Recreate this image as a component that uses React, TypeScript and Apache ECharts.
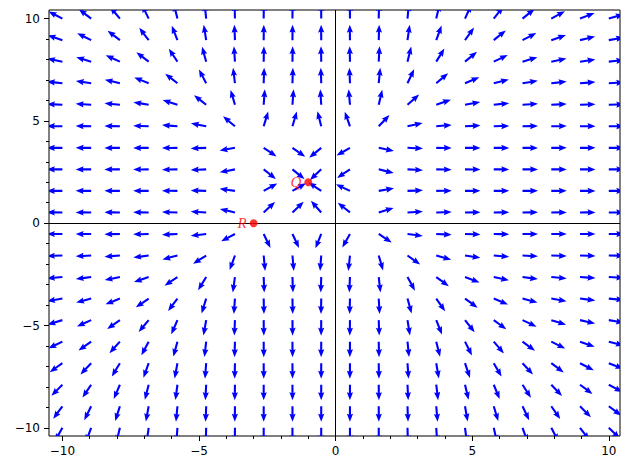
import React, { useEffect, useRef } from 'react';
import * as echarts from 'echarts';

// Grid of arrow tails (20 x 20, from -10 to 10)
const gridX = [-10, -8.947, -7.895, -6.842, -5.789, -4.737, -3.684, -2.632, -1.579, -0.526,
  0.526, 1.579, 2.632, 3.684, 4.737, 5.789, 6.842, 7.895, 8.947, 10];
const gridY = [10, 8.947, 7.895, 6.842, 5.789, 4.737, 3.684, 2.632, 1.579, 0.526,
  -0.526, -1.579, -2.632, -3.684, -4.737, -5.789, -6.842, -7.895, -8.947, -10];

// Horizontal component of the field for each column, vertical component for each row
const uByColumn = [-693, -470.1, -300.2, -176.0, -90.7, -37.2, -8.6, 2.18, 2.12, -1.79,
  -2.55, 6.84, 33.4, 84.0, 165.9, 285.7, 450.9, 668.2, 944.4, 1287];
const vByRow = [480, 307.5, 181.3, 94.2, 39.2, 9.56, -1.96, -2.28, 1.61, 2.69,
  -6.01, -31.5, -80.9, -160.9, -278.8, -441.4, -655.9, -929.3, -1268.0, -1680];

// Marked points
const pointNames = ['R', 'Q'];
const pointX = [-3, -1];
const pointY = [0, 2];

// Ticks
const majorTicks = [-10, -5, 0, 5, 10];
const minorTicks = [-9, -8, -7, -6, -4, -3, -2, -1, 1, 2, 3, 4, 6, 7, 8, 9];

const X_MIN = -10.49;
const X_MAX = 10.41;
const Y_MIN = -10.4;
const Y_MAX = 10.42;

// Arrow geometry in pixels
const ARROW_LEN = 15.5;
const SHAFT_W = 2.1;
const HEAD_W = 6.2;
const HEAD_LEN = 8;
const HEAD_AXIS_LEN = 7.2;

const fmt = (v: number) => (v < 0 ? '\u2212' + Math.abs(v) : String(v));

export default function App() {
  const ref = useRef<HTMLDivElement>(null);

  useEffect(() => {
    const chart = echarts.init(ref.current!, null, { renderer: 'svg' });

    const arrows: number[][] = [];
    gridY.forEach((y, j) => {
      gridX.forEach((x, i) => {
        arrows.push([x, y, uByColumn[i], vByRow[j]]);
      });
    });

    const shape = [
      [0, -SHAFT_W / 2],
      [ARROW_LEN - HEAD_AXIS_LEN, -SHAFT_W / 2],
      [ARROW_LEN - HEAD_LEN, -HEAD_W / 2],
      [ARROW_LEN, 0],
      [ARROW_LEN - HEAD_LEN, HEAD_W / 2],
      [ARROW_LEN - HEAD_AXIS_LEN, SHAFT_W / 2],
      [0, SHAFT_W / 2],
    ];

    const tickLine = { color: '#000', width: 1 };
    const labelStyle = { color: '#000', fontSize: 12, fontFamily: 'DejaVu Sans' };

    const makeAxes = (min: number, max: number, pos: string, margin: number) => [
      {
        type: 'value', min, max, position: pos,
        axisLine: { show: false, onZero: false },
        splitLine: { show: false },
        axisTick: { show: true, customValues: majorTicks, length: 5, lineStyle: tickLine },
        axisLabel: { show: true, customValues: majorTicks, formatter: fmt, margin, ...labelStyle },
      },
      {
        type: 'value', min, max, position: pos,
        axisLine: { show: false, onZero: false },
        splitLine: { show: false },
        axisTick: { show: true, customValues: minorTicks, length: 3, lineStyle: tickLine },
        axisLabel: { show: false },
      },
    ];

    chart.setOption({
      animation: false,
      grid: {
        left: 49, top: 10, right: 10, bottom: 34,
        show: true, borderColor: '#000', borderWidth: 1, backgroundColor: 'transparent',
      },
      xAxis: makeAxes(X_MIN, X_MAX, 'bottom', 9),
      yAxis: makeAxes(Y_MIN, Y_MAX, 'left', 9),
      series: [
        {
          type: 'line',
          xAxisIndex: 0,
          yAxisIndex: 0,
          data: [],
          z: 1,
          markLine: {
            silent: true,
            symbol: ['none', 'none'],
            label: { show: false },
            lineStyle: { color: '#000', width: 1, type: 'solid' },
            data: [{ xAxis: 0 }, { yAxis: 0 }],
          },
        },
        {
          type: 'custom',
          xAxisIndex: 0,
          yAxisIndex: 0,
          clip: true,
          z: 2,
          data: arrows,
          encode: { x: 0, y: 1 },
          renderItem: (params: any, api: any) => {
            const x = api.value(0);
            const y = api.value(1);
            const u = api.value(2);
            const v = api.value(3);
            const p0 = api.coord([x, y]);
            const p1 = api.coord([x + u * 1e-4, y + v * 1e-4]);
            let dx = p1[0] - p0[0];
            let dy = p1[1] - p0[1];
            const len = Math.hypot(dx, dy) || 1;
            dx /= len;
            dy /= len;
            const nx = -dy;
            const ny = dx;
            const pts = shape.map(([a, b]) => [p0[0] + a * dx + b * nx, p0[1] + a * dy + b * ny]);
            return {
              type: 'polygon',
              shape: { points: pts },
              style: { fill: '#0000ff', stroke: null },
            };
          },
        },
        {
          type: 'scatter',
          xAxisIndex: 0,
          yAxisIndex: 0,
          z: 5,
          symbolSize: 8,
          itemStyle: { color: '#ff0000' },
          data: pointNames.map((n, k) => ({ name: n, value: [pointX[k], pointY[k]] })),
          label: {
            show: true,
            position: 'left',
            distance: 3,
            formatter: '{b}',
            color: '#ff0000',
            fontFamily: 'Liberation Serif',
            fontStyle: 'italic',
            fontSize: 15,
          },
        },
      ],
    });

    return () => chart.dispose();
  }, []);

  return (
    <div
      ref={ref}
      style={{ position: 'fixed', left: 0, top: 0, width: 630, height: 470, background: '#fff' }}
    />
  );
}
